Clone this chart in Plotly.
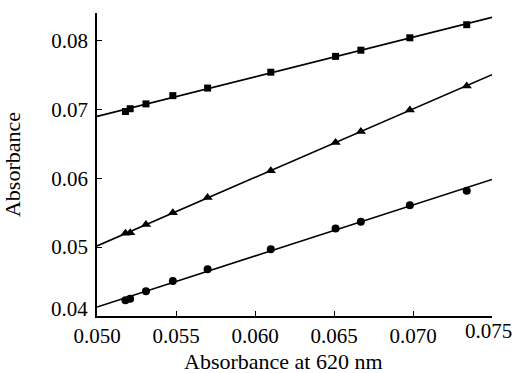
import numpy as np
import plotly.graph_objects as go

# Data
x_vals = [0.0518, 0.0521, 0.0531, 0.0548, 0.0570, 0.0610, 0.0651, 0.0667, 0.0698, 0.0734]
squares_y = [0.0697, 0.0701, 0.0708, 0.0720, 0.0731, 0.0754, 0.0777, 0.0786, 0.0804, 0.0823]
triangles_y = [0.0520, 0.0521, 0.0533, 0.0550, 0.0572, 0.0611, 0.0652, 0.0668, 0.0699, 0.0734]
circles_y = [0.0423, 0.0425, 0.0436, 0.0451, 0.0468, 0.0497, 0.0527, 0.0537, 0.0561, 0.0582]

x_ticks = [0.050, 0.055, 0.060, 0.065, 0.070, 0.075]
y_ticks = [0.04, 0.05, 0.06, 0.07, 0.08]
x_range = [0.050, 0.075]
y_range = [0.040, 0.0840]
x_title = "Absorbance at 620 nm"
y_title = "Absorbance"

series = [
    ("square", squares_y, 7),
    ("triangle-up", triangles_y, 9),
    ("circle", circles_y, 8),
]

FONT = "Liberation Serif, Times New Roman, serif"
TICK_SIZE = 21
TITLE_SIZE = 22

fig = go.Figure()
xl = np.array(x_range)
for sym, ys, sz in series:
    k, b = np.polyfit(x_vals, ys, 1)
    fig.add_trace(go.Scatter(x=xl, y=k * xl + b, mode="lines",
                             line=dict(color="black", width=1.6),
                             showlegend=False, hoverinfo="skip"))
    fig.add_trace(go.Scatter(x=x_vals, y=ys, mode="markers",
                             marker=dict(symbol=sym, size=sz, color="black",
                                         line=dict(width=0)),
                             showlegend=False))

# The end labels (lowest y, last x) are drawn nudged inward as in the original,
# so the axis shows them as blank and annotations carry the text.
x_ticktext = [f"{v:.3f}" for v in x_ticks[:-1]] + [""]
y_ticktext = [""] + [f"{v:.2f}" for v in y_ticks[1:]]

fig.update_layout(
    width=514, height=373,
    margin=dict(l=97, r=22, t=13, b=57),
    paper_bgcolor="white", plot_bgcolor="white",
    font=dict(family=FONT, size=TICK_SIZE, color="black"),
    xaxis=dict(range=x_range, tickvals=x_ticks, ticktext=x_ticktext,
               automargin=False,
               showgrid=False, zeroline=False, showline=True,
               linecolor="black", linewidth=1.6,
               ticks="inside", ticklen=5, tickwidth=1.4, tickcolor="black",
               tickfont=dict(size=TICK_SIZE)),
    yaxis=dict(range=y_range, tickvals=y_ticks, ticktext=y_ticktext,
               automargin=False, ticklabelstandoff=3,
               showgrid=False, zeroline=False, showline=True,
               linecolor="black", linewidth=1.6,
               ticks="inside", ticklen=5, tickwidth=1.4, tickcolor="black",
               tickfont=dict(size=TICK_SIZE),
               title=dict(text=y_title, font=dict(size=TITLE_SIZE), standoff=25)),
)

# x-axis title (placed slightly left of centre as in the original)
fig.add_annotation(x=0.5, xref="paper", y=0, yref="paper", text=x_title,
                   showarrow=False, xanchor="center", yanchor="middle",
                   xshift=-11, yshift=-45,
                   font=dict(family=FONT, size=TITLE_SIZE, color="black"))

# last x label, nudged left to stay inside the picture
fig.add_annotation(x=x_ticks[-1], xref="x", y=0, yref="paper",
                   text=f"{x_ticks[-1]:.3f}",
                   showarrow=False, xanchor="center", yanchor="middle",
                   xshift=-4, yshift=-15,
                   font=dict(family=FONT, size=TICK_SIZE, color="black"))

# bottom-most y label, drawn slightly raised as in the original
fig.add_annotation(x=0, xref="paper", y=y_ticks[0], yref="y", text=f"{y_ticks[0]:.2f}",
                   showarrow=False, xanchor="right", xshift=-7, yshift=7,
                   font=dict(family=FONT, size=TICK_SIZE, color="black"))

fig.write_html("out.html", config={"displayModeBar": False},
               post_script="document.body.style.margin='0';document.body.style.padding='0';")
